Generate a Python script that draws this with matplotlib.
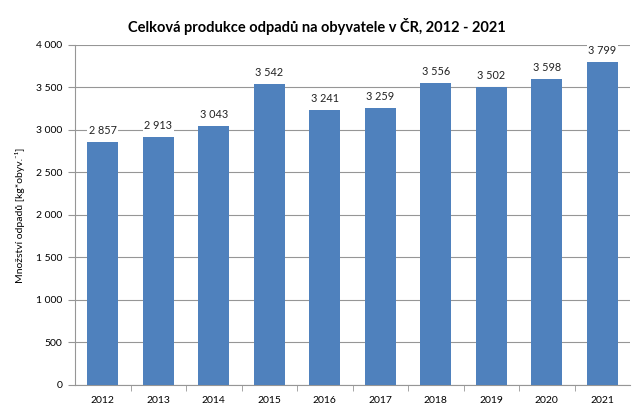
import matplotlib
matplotlib.use('Agg')
import matplotlib.pyplot as plt
import numpy as np

years = ['2012', '2013', '2014', '2015', '2016', '2017', '2018', '2019', '2020', '2021']
waste_kg = [2857, 2913, 3043, 3542, 3241, 3259, 3556, 3502, 3598, 3799]
y_ticks = [0, 500, 1000, 1500, 2000, 2500, 3000, 3500, 4000]

plt.rcParams['font.family'] = ['Lato', 'DejaVu Sans']

def fmt(v):
    return f'{v:,}'.replace(',', ' ')

fig = plt.figure(figsize=(6.33, 4.05), dpi=100)
ax = fig.add_axes([0.1185, 0.0494, 0.9953 - 0.1185, 0.8889 - 0.0494])

x = np.arange(len(years))
ax.bar(x, waste_kg, width=0.56, color='#4F81BD', zorder=3)

for xi, v in zip(x, waste_kg):
    ax.text(xi, v + 70, fmt(v), ha='center', va='bottom', fontsize=7.8, color='#222222',
            zorder=4, bbox=dict(facecolor='white', edgecolor='none', pad=1.0))

ax.set_xlim(-0.5, len(years) - 0.5)
ax.set_ylim(0, 4000)
ax.set_yticks(y_ticks)
ax.set_yticklabels([fmt(t) for t in y_ticks], fontsize=7.5)
ax.yaxis.grid(True, color='#969696', linewidth=0.8, zorder=0)

ax.set_xticks(x)
ax.set_xticklabels(years, fontsize=7.5)
ax.tick_params(axis='x', length=0, pad=8)
ax.set_xticks(np.arange(0.5, len(years) - 0.5, 1.0), minor=True)
ax.tick_params(axis='x', which='minor', length=4, color='#969696', direction='out')
ax.tick_params(axis='y', length=5, color='#969696', direction='out', pad=4)

for s in ['top', 'right']:
    ax.spines[s].set_visible(False)
for s in ['left', 'bottom']:
    ax.spines[s].set_color('#969696')
    ax.spines[s].set_linewidth(0.8)

ax.set_ylabel('Množství odpadů [kg*obyv.⁻¹]', fontsize=7.5, labelpad=8)
fig.suptitle('Celková produkce odpadů na obyvatele v ČR, 2012 - 2021', fontsize=10.5,
             fontweight='bold', y=0.955)

fig.savefig('out.png', dpi=100)
